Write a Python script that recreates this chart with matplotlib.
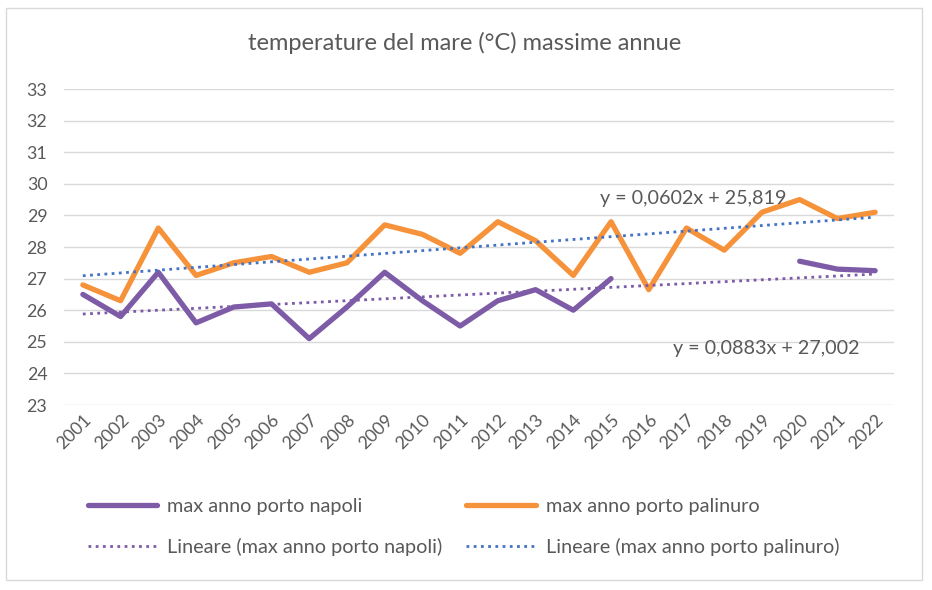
import numpy as np
import matplotlib
matplotlib.use("Agg")
import matplotlib.pyplot as plt
from matplotlib.patches import Rectangle

plt.rcParams['font.family'] = ['Lato', 'DejaVu Sans']

years = [str(y) for y in range(2001, 2023)]
napoli = [26.5, 25.8, 27.2, 25.6, 26.1, 26.2, 25.1, 26.1, 27.2, 26.3, 25.5, 26.3, 26.65, 26.0, 27.0,
          np.nan, np.nan, np.nan, np.nan, 27.55, 27.3, 27.25]
palinuro = [26.8, 26.3, 28.6, 27.1, 27.5, 27.7, 27.2, 27.5, 28.7, 28.4, 27.8, 28.8, 28.2, 27.1, 28.8,
            26.65, 28.6, 27.9, 29.1, 29.5, 28.9, 29.1]
# trendline coefficients (as printed on the chart; labels appear swapped in the original)
trend_napoli = (0.0602, 25.819)
trend_palinuro = (0.0883, 27.002)
label_top = "y = 0,0602x + 25,819"
label_bottom = "y = 0,0883x + 27,002"

title = "temperature del mare (°C) massime annue"
names = ["max anno porto napoli", "max anno porto palinuro",
         "Lineare (max anno porto napoli)", "Lineare (max anno porto palinuro)"]

purple = '#7D5BA6'
orange = '#F5923A'
blue = '#4472C4'
txt = '#595959'

fig = plt.figure(figsize=(9.32, 5.9), dpi=100)
fig.patches.append(Rectangle((6/932, 1-580/590), 916/932, 572/590, transform=fig.transFigure,
                             fill=False, edgecolor='#D9D9D9', linewidth=1.0))
ax = fig.add_axes([64/932, 1-405/590, 830/932, 316/590])

x = np.arange(1, len(years) + 1)
l1, = ax.plot(x, napoli, color=purple, lw=3.8, solid_capstyle='round', solid_joinstyle='round', zorder=3)
l2, = ax.plot(x, palinuro, color=orange, lw=3.8, solid_capstyle='round', solid_joinstyle='round', zorder=3)
t1, = ax.plot(x, trend_napoli[0]*x + trend_napoli[1], color=purple, lw=2.0, ls=(0, (1, 1.6)), zorder=4)
t2, = ax.plot(x, trend_palinuro[0]*x + trend_palinuro[1], color=blue, lw=2.0, ls=(0, (1, 1.6)), zorder=4)

ax.set_xlim(0.5, len(years) + 0.5)
ax.set_ylim(23, 33)
ax.set_yticks(range(23, 34))
ax.set_xticks(x)
ax.set_xticklabels(years, rotation=45, ha='right', va='top', rotation_mode='anchor')
ax.grid(axis='y', color='#D9D9D9', lw=1.0)
ax.set_axisbelow(True)
for s in ax.spines.values():
    s.set_visible(False)
ax.tick_params(axis='both', length=0, colors=txt, labelsize=12.8)
ax.tick_params(axis='y', pad=12)
ax.tick_params(axis='x', pad=5)

ax.text(14.72, 29.55, label_top, color=txt, fontsize=14.2, ha='left', va='center')
ax.text(16.64, 24.8, label_bottom, color=txt, fontsize=14.2, ha='left', va='center')

fig.text(465/932, 1-43/590, title, ha='center', va='center', fontsize=17, color=txt)

leg = fig.legend([l1, t1, l2, t2], [names[0], names[2], names[1], names[3]], ncol=2,
                 loc='upper left', bbox_to_anchor=(80/932, 1-490/590), frameon=False,
                 fontsize=14.3, labelcolor=txt, handlelength=3.5, handletextpad=0.5,
                 columnspacing=1.2, labelspacing=1.15, borderaxespad=0)

fig.savefig('out.png', dpi=100)
